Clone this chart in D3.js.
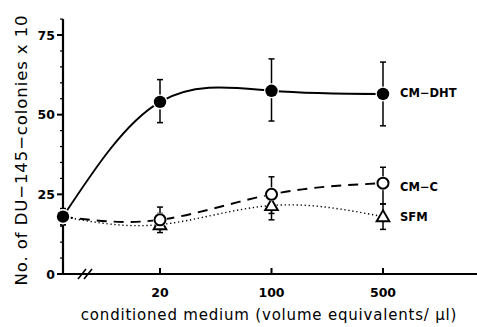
<!DOCTYPE html>
<html>
<head>
<meta charset="utf-8">
<script src="https://cdn.jsdelivr.net/npm/d3@7"></script>
<style>
  body { margin: 0; background: #fff; }
  svg { display: block; }
  text { font-family: "DejaVu Sans", "Liberation Sans", Arial, sans-serif; fill: #000; }
</style>
</head>
<body>
<svg id="chart" width="477" height="327"></svg>
<script>
// dose 0 = control, drawn on the y axis
const doses = [0, 20, 100, 500];
const xTicks = [20, 100, 500];
const yTicks = [0, 25, 50, 75];

const cmDht = [18, 54, 57.5, 56.5];
const cmDhtErr = [[15.5, 20.5], [47.5, 61], [48, 67.5], [46.5, 66.5]];
const cmC = [18, 17, 25, 28.5];
const cmCErr = [[15.5, 20.5], [14, 21], [19, 30.5], [22, 33.5]];
const sfm = [18, 15.5, 21.5, 18];
const sfmErr = [[15.5, 20.5], [13, 19], [17, 24.5], [14, 22]];

const series = [
  { name: 'CM-DHT', values: cmDht, err: cmDhtErr, marker: 'dot', dash: null, width: 1.9, labelY: 56.7 },
  { name: 'CM-C', values: cmC, err: cmCErr, marker: 'circle', dash: '10,7', width: 1.9, labelY: 27.3 },
  { name: 'SFM', values: sfm, err: sfmErr, marker: 'triangle', dash: '1.3,2.7', width: 1.4, labelY: 18 },
];

const svg = d3.select('#chart');
const x0 = 63;
const xScale = d3.scaleLog().domain([20, 500]).range([160, 383]);
const yScale = d3.scaleLinear().domain([0, 75]).range([274, 35]);
const xPos = d => d === 0 ? x0 : xScale(d);

const g = svg.append('g');

// y axis
g.append('line').attr('x1', x0).attr('x2', x0)
  .attr('y1', yScale(0)).attr('y2', yScale(80))
  .attr('stroke', '#000').attr('stroke-width', 2.2);
d3.range(0, 81, 5).forEach(v => {
  const major = v % 25 === 0;
  g.append('line').attr('x1', x0 - (major ? 6 : 3)).attr('x2', x0)
    .attr('y1', yScale(v)).attr('y2', yScale(v))
    .attr('stroke', '#000').attr('stroke-width', major ? 2 : 1.2);
});
g.selectAll('.ylab').data(yTicks).enter().append('text')
  .attr('x', x0 - 8).attr('y', d => yScale(d) + 4.5)
  .attr('text-anchor', 'end').attr('font-size', 12.5).attr('font-weight', 'bold')
  .text(d => d);

// x axis
g.append('line').attr('x1', x0).attr('x2', 477)
  .attr('y1', yScale(0)).attr('y2', yScale(0))
  .attr('stroke', '#000').attr('stroke-width', 2.2);
xTicks.forEach(t => {
  g.append('line').attr('x1', xScale(t)).attr('x2', xScale(t))
    .attr('y1', yScale(0)).attr('y2', yScale(0) - 6)
    .attr('stroke', '#000').attr('stroke-width', 2);
});
g.selectAll('.xlab').data(xTicks).enter().append('text')
  .attr('x', d => xScale(d)).attr('y', 297)
  .attr('text-anchor', 'middle').attr('font-size', 12.5).attr('font-weight', 'bold')
  .text(d => d);
// axis break
[0, 6].forEach(o => {
  g.append('line').attr('x1', 78 + o).attr('x2', 86 + o)
    .attr('y1', yScale(0) + 5).attr('y2', yScale(0) - 5)
    .attr('stroke', '#000').attr('stroke-width', 1.6);
});

// titles
g.append('text')
  .attr('transform', `translate(27, 150) rotate(-90)`)
  .attr('text-anchor', 'middle').attr('font-size', 16.5).attr('letter-spacing', 0.9)
  .text('No. of DU\u2212145\u2212colonies x 10');
g.append('text')
  .attr('x', 269).attr('y', 320)
  .attr('text-anchor', 'middle').attr('font-size', 15).attr('letter-spacing', 0.8)
  .text('conditioned medium (volume equivalents/ \u03bcl)');

// lines
const line = d3.line().curve(d3.curveNatural)
  .x(d => xPos(d[0])).y(d => yScale(d[1]));
series.forEach(s => {
  g.append('path')
    .attr('d', line(doses.map((d, i) => [d, s.values[i]])))
    .attr('fill', 'none').attr('stroke', '#000')
    .attr('stroke-width', s.width)
    .attr('stroke-dasharray', s.dash);
});

// error bars
series.forEach(s => {
  s.err.forEach((e, i) => {
    const x = xPos(doses[i]);
    g.append('line').attr('x1', x).attr('x2', x)
      .attr('y1', yScale(e[0])).attr('y2', yScale(e[1]))
      .attr('stroke', '#000').attr('stroke-width', 1.5);
    e.forEach(v => {
      g.append('line').attr('x1', x - 3).attr('x2', x + 3)
        .attr('y1', yScale(v)).attr('y2', yScale(v))
        .attr('stroke', '#000').attr('stroke-width', 1.5);
    });
  });
});

// markers (control drawn as filled dot), white halo leaves a gap in the lines
series.slice().reverse().forEach(s => {
  s.values.forEach((v, i) => {
    const x = xPos(doses[i]), y = yScale(v);
    const kind = i === 0 ? 'dot' : s.marker;
    if (kind === 'dot') {
      g.append('circle').attr('cx', x).attr('cy', y).attr('r', 7.5)
        .attr('fill', '#fff');
      g.append('circle').attr('cx', x).attr('cy', y).attr('r', 6.2)
        .attr('fill', '#000');
    } else if (kind === 'circle') {
      g.append('circle').attr('cx', x).attr('cy', y).attr('r', 7)
        .attr('fill', '#fff');
      g.append('circle').attr('cx', x).attr('cy', y).attr('r', 5.5)
        .attr('fill', '#fff').attr('stroke', '#000').attr('stroke-width', 2);
    } else {
      g.append('path')
        .attr('d', d3.symbol(d3.symbolTriangle, 70)())
        .attr('transform', `translate(${x},${y + 1})`)
        .attr('fill', '#fff').attr('stroke', '#000').attr('stroke-width', 1.9);
    }
  });
});

// labels
series.forEach(s => {
  g.append('text')
    .attr('x', 400).attr('y', yScale(s.labelY) + 4)
    .attr('font-size', 11.5).attr('font-weight', 'bold')
    .text(s.name.replace('-', '\u2212'));
});
</script>
</body>
</html>
